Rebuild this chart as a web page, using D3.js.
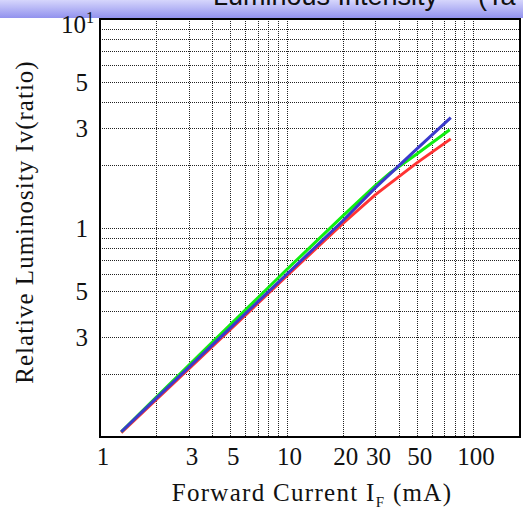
<!DOCTYPE html>
<html><head><meta charset="utf-8">
<script src="https://cdn.jsdelivr.net/npm/d3@7/dist/d3.min.js"></script>
<style>body{margin:0;background:#fff}svg{display:block}</style>
</head><body>
<script>
// ---- data ----
const xGridValues = [1,2,3,4,5,6,7,8,9,10,20,30,40,50,60,70,80,90,100];
const yGridValues = [0.1,0.2,0.3,0.4,0.5,0.6,0.7,0.8,0.9,1,2,3,4,5,6,7,8,9,10];
const xTickValues = [1,3,5,10,20,30,50,100];
const xTickLabels = ["1","3","5","10","20","30","50","100"];
const yTickValues = [10,5,3,1,0.5,0.3];
const yTickLabels = ["10","5","3","1","5","3"];
const currentBlue  = [1.3,2,3,5,10,20,30,50,76];
const blueValues   = [0.106,0.153,0.216,0.333,0.599,1.08,1.56,2.39,3.37];
const currentGreen = [1.3,2,3,5,10,20,30,36,50,75];
const greenValues  = [0.106,0.155,0.221,0.345,0.631,1.14,1.60,1.84,2.26,2.95];
const currentRed   = [1.3,2,3,5,10,20,30,50,76];
const redValues    = [0.105,0.151,0.2125,0.327,0.589,1.048,1.444,2.05,2.67];
const titleText = "Luminous Intensity";
const titleTail = "(Ta";

(function(){
const W = 523, H = 511;
const svg = d3.select("body").append("svg").attr("width", W).attr("height", H);

const pL = 100, pR = 520, pT = 19, pB = 437;
const x = d3.scaleLog().domain([1, 100]).range([100, 473]);
const y = d3.scaleLog().domain([0.1, 10]).range([pB, pT]);

// banner
const defs = svg.append("defs");
const g = defs.append("linearGradient").attr("id","ban").attr("x1",0).attr("y1",0).attr("x2",0).attr("y2",1);
g.append("stop").attr("offset","0%").attr("stop-color","#d6d6fc");
g.append("stop").attr("offset","100%").attr("stop-color","#9292ee");
svg.append("rect").attr("x",0).attr("y",0).attr("width",W).attr("height",18).attr("fill","url(#ban)");
svg.append("text").attr("x",213).attr("y",5).attr("font-family","Liberation Sans, Arial, sans-serif")
  .attr("font-size",27).attr("fill","#111").text(titleText);
svg.append("text").attr("x",478).attr("y",5).attr("font-family","Liberation Sans, Arial, sans-serif")
  .attr("font-size",27).attr("fill","#111").text(titleTail);

// plot background
svg.append("rect").attr("x",pL).attr("y",pT).attr("width",pR-pL).attr("height",pB-pT).attr("fill","#fff");

// grid
const grid = svg.append("g");
grid.selectAll("line.v").data(xGridValues.slice(1)).join("line")
  .attr("x1", d => Math.round(x(d))+0.5).attr("x2", d => Math.round(x(d))+0.5)
  .attr("y1", pT).attr("y2", pB)
  .attr("stroke","#222").attr("stroke-width",1).attr("stroke-dasharray","1,1");
grid.selectAll("line.h").data(yGridValues.slice(1, -1)).join("line")
  .attr("y1", d => Math.round(y(d))+0.5).attr("y2", d => Math.round(y(d))+0.5)
  .attr("x1", pL).attr("x2", pR)
  .attr("stroke","#222").attr("stroke-width",1).attr("stroke-dasharray","1,1");

// series
const line = d3.line().x(d => x(d[0])).y(d => y(d[1]));
const series = [
  {xs: currentRed, ys: redValues, color: "#ff3333"},
  {xs: currentGreen, ys: greenValues, color: "#11ee11"},
  {xs: currentBlue, ys: blueValues, color: "#3a3acc"}
];
series.forEach(s => {
  svg.append("path").datum(s.xs.map((v,i) => [v, s.ys[i]]))
    .attr("d", line).attr("fill","none").attr("stroke", s.color).attr("stroke-width",3);
});

// frame
svg.append("rect").attr("x",pL).attr("y",pT).attr("width",pR-pL).attr("height",pB-pT)
  .attr("fill","none").attr("stroke","#000").attr("stroke-width",2);

const serif = "Liberation Serif, Times New Roman, serif";
// x tick labels
svg.append("g").selectAll("text").data(xTickValues).join("text")
  .attr("x", d => x(d) + 3).attr("y", 465).attr("text-anchor","middle")
  .attr("font-family", serif).attr("font-size", 25).attr("fill","#111")
  .text((d,i) => xTickLabels[i]);

// y tick labels
svg.append("g").selectAll("text").data(yTickValues).join("text")
  .attr("x", 88).attr("y", d => y(d)).attr("dy","0.35em").attr("text-anchor","end")
  .attr("font-family", serif).attr("font-size", 25).attr("fill","#111")
  .each(function(d,i){
    const t = d3.select(this);
    if (d === 10) {
      t.attr("x", 94).attr("dy", null).attr("y", 33);
      t.append("tspan").text(yTickLabels[i]);
      t.append("tspan").attr("font-size",16).attr("dy",-10).text("1");
    } else {
      t.text(yTickLabels[i]);
    }
  });

// axis titles
const xt = svg.append("text").attr("x", 312).attr("y", 501).attr("text-anchor","middle")
  .attr("font-family", serif).attr("font-size", 25).attr("letter-spacing", 1.3).attr("fill","#111");
xt.append("tspan").text("Forward Current I");
xt.append("tspan").attr("font-size",15).attr("dy",6).text("F");
xt.append("tspan").attr("dy",-6).text(" (mA)");

svg.append("text").attr("transform","translate(33,222) rotate(-90)").attr("text-anchor","middle")
  .attr("font-family", serif).attr("font-size", 25).attr("letter-spacing", 1.0).attr("fill","#111")
  .text("Relative Luminosity Iv(ratio)");
})();
</script>
</body></html>
